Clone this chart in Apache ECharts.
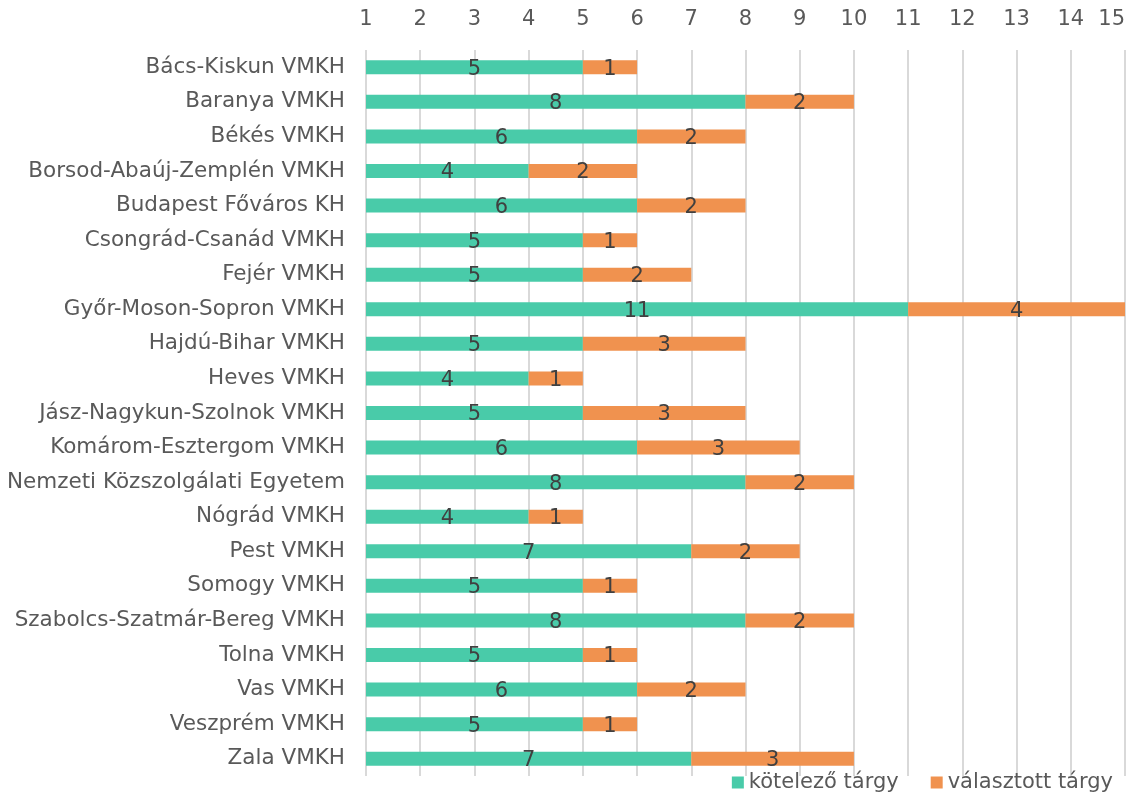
<!DOCTYPE html>
<html>
<head>
<meta charset="utf-8">
<script src="https://cdn.jsdelivr.net/npm/echarts@6/dist/echarts.min.js"></script>
<style>
  html, body { margin: 0; padding: 0; background: #fff; }
  #chart { width: 1128px; height: 796px; }
</style>
</head>
<body>
<div id="chart"></div>
<script>
// kategóriák (felülről lefelé)
var categories = [
  'Bács-Kiskun VMKH', 'Baranya VMKH', 'Békés VMKH', 'Borsod-Abaúj-Zemplén VMKH',
  'Budapest Főváros KH', 'Csongrád-Csanád VMKH', 'Fejér VMKH', 'Győr-Moson-Sopron VMKH',
  'Hajdú-Bihar VMKH', 'Heves VMKH', 'Jász-Nagykun-Szolnok VMKH', 'Komárom-Esztergom VMKH',
  'Nemzeti Közszolgálati Egyetem', 'Nógrád VMKH', 'Pest VMKH', 'Somogy VMKH',
  'Szabolcs-Szatmár-Bereg VMKH', 'Tolna VMKH', 'Vas VMKH', 'Veszprém VMKH', 'Zala VMKH'
];
var kotelezo = [5, 8, 6, 4, 6, 5, 5, 11, 5, 4, 5, 6, 8, 4, 7, 5, 8, 5, 6, 5, 7];
var valasztott = [1, 2, 2, 2, 2, 1, 2, 4, 3, 1, 3, 3, 2, 1, 2, 1, 2, 1, 2, 1, 3];
var seriesNames = ['kötelező tárgy', 'választott tárgy'];

var font = 'DejaVu Sans';
var chart = echarts.init(document.getElementById('chart'));

var barLabel = {
  show: true,
  position: 'inside',
  offset: [0, 2],
  color: '#404040',
  fontFamily: font,
  fontSize: 21
};

var option = {
  backgroundColor: '#ffffff',
  animation: false,
  grid: {
    left: 366,
    right: 3,
    top: 50,
    bottom: 20,
    containLabel: false
  },
  legend: {
    data: seriesNames,
    right: 10,
    bottom: -2,
    itemWidth: 12,
    itemHeight: 12,
    itemGap: 32,
    icon: 'rect',
    textStyle: {
      color: '#595959',
      fontFamily: font,
      fontSize: 21
    }
  },
  xAxis: {
    type: 'value',
    position: 'top',
    min: 1,
    max: 15,
    interval: 1,
    axisLine: { show: false },
    axisTick: { show: false },
    axisLabel: {
      color: '#595959',
      fontFamily: font,
      fontSize: 21,
      margin: 20,
      alignMaxLabel: 'right'
    },
    splitLine: {
      show: true,
      lineStyle: { color: '#d9d9d9', width: 2 }
    }
  },
  yAxis: {
    type: 'category',
    inverse: true,
    data: categories,
    axisLine: { show: false },
    axisTick: { show: false },
    axisLabel: {
      color: '#595959',
      fontFamily: font,
      fontSize: 21.5,
      margin: 21
    }
  },
  series: [{
    name: seriesNames[0],
    type: 'bar',
    stack: 'total',
    barWidth: 14,
    itemStyle: { color: '#49cba9' },
    label: barLabel,
    data: kotelezo
  }, {
    name: seriesNames[1],
    type: 'bar',
    stack: 'total',
    barWidth: 14,
    itemStyle: { color: '#f0924f' },
    label: barLabel,
    data: valasztott
  }]
};

chart.setOption(option);
</script>
</body>
</html>
